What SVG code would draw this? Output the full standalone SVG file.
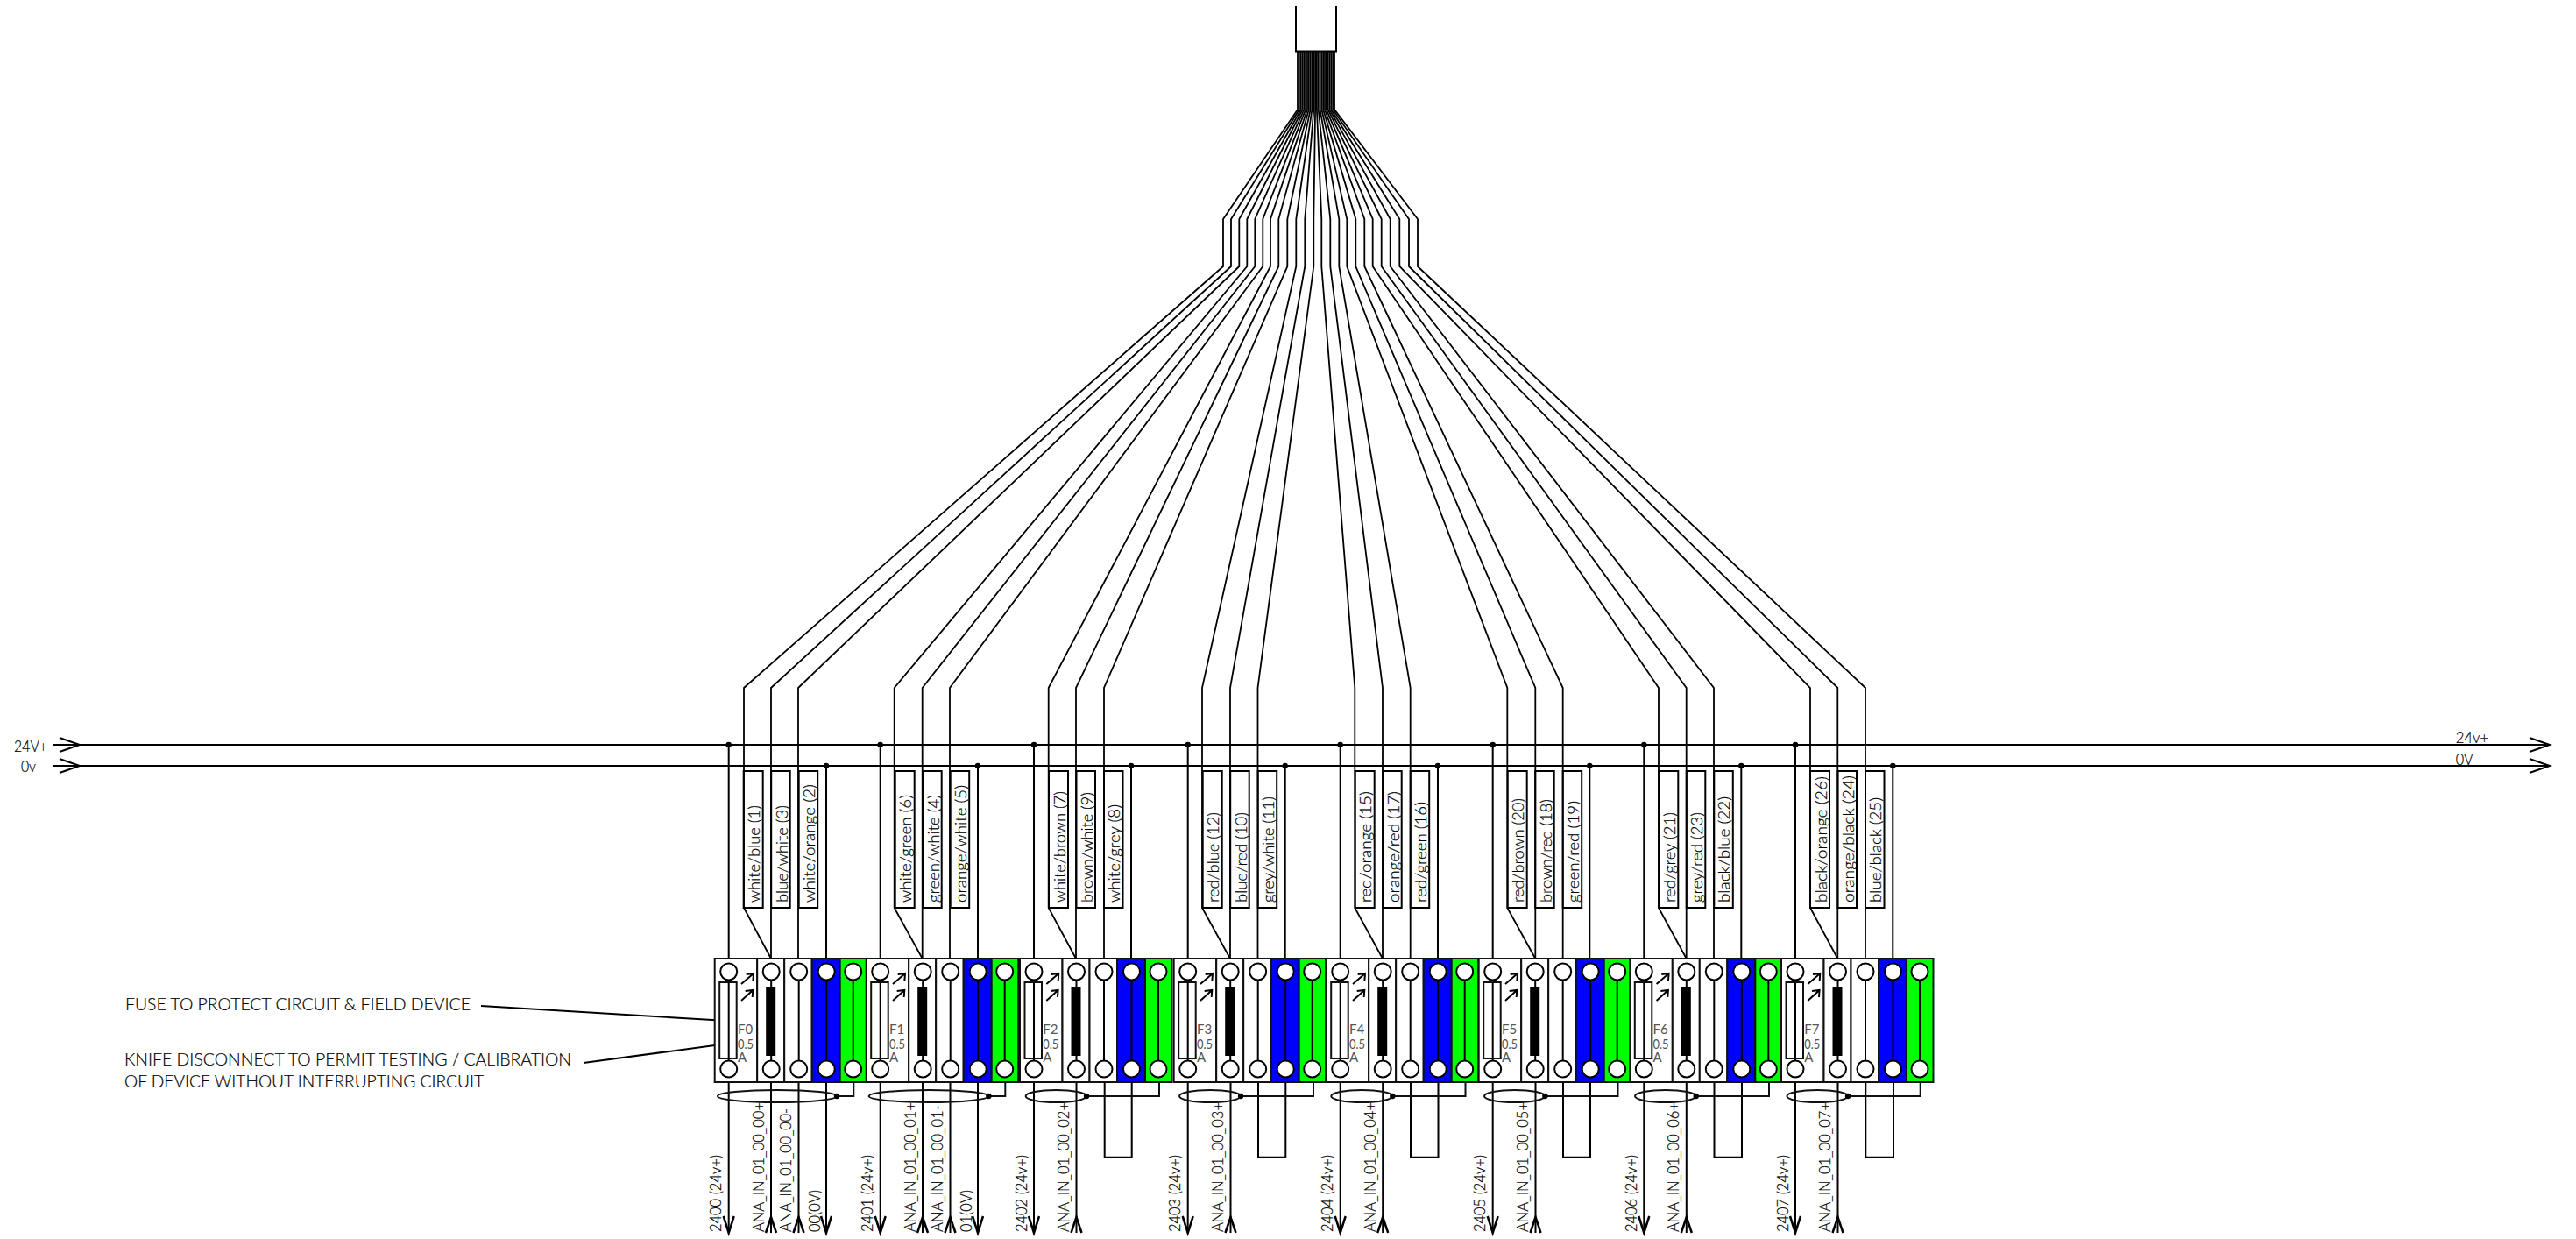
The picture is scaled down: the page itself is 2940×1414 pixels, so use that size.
<svg xmlns="http://www.w3.org/2000/svg" width="2940" height="1414" viewBox="0 0 2940 1414">
<style>
.w{fill:none;stroke:#000;stroke-width:2}
.b{fill:none;stroke:#000;stroke-width:1.8}
.h{fill:none;stroke:#000;stroke-width:2.5}
.d{fill:none;stroke:#111;stroke-width:2}
.c{stroke:#111;stroke-width:2;fill:#fff}
.o{fill:#fff;stroke:#000;stroke-width:2}
.t{font-family:Lato,"Liberation Sans",sans-serif;font-size:18px;font-weight:300;fill:#000;stroke:#000;stroke-width:.2}
.n{font-family:Lato,"Liberation Sans",sans-serif;font-size:15px;fill:#555}
.a{font-family:Lato,"Liberation Sans",sans-serif;font-size:19px;font-weight:300;fill:#000;stroke:#000;stroke-width:.2}
</style>
<defs>
<polyline id="ad" class="h" points="-6,1388 0,1407 6,1388"/>
<polyline id="au" class="h" points="-6,1407 0,1389 6,1407"/>
<circle id="dot" r="3.2" fill="#000"/>
<g id="body">
<rect class="c" x="-16" y="1094" width="48.5" height="141"/>
<rect class="c" x="32.5" y="1094" width="31" height="141"/>
<rect class="c" x="63.5" y="1094" width="31.5" height="141"/>
<rect class="c" x="95" y="1094" width="32" height="141" style="fill:#00f"/>
<rect class="c" x="127" y="1094" width="30.5" height="141" style="fill:#0f0"/>
<path class="w" d="M0 1109V1220M48.5 1109V1220M80 1109V1220M111.5 1109V1220M142 1109V1220"/>
<rect x="-10.5" y="1121" width="19.5" height="87" fill="none" stroke="#111" stroke-width="2"/>
<rect x="42.5" y="1126" width="11" height="79" fill="#000"/>
<circle class="o" cx="0" cy="1109" r="9.5"/><circle class="o" cx="0" cy="1220" r="9.5"/>
<circle class="o" cx="48.5" cy="1109" r="9.5"/><circle class="o" cx="48.5" cy="1220" r="9.5"/>
<circle class="o" cx="80" cy="1109" r="9.5"/><circle class="o" cx="80" cy="1220" r="9.5"/>
<circle class="o" cx="111.5" cy="1109" r="9.5"/><circle class="o" cx="111.5" cy="1220" r="9.5"/>
<circle class="o" cx="142" cy="1109" r="9.5"/><circle class="o" cx="142" cy="1220" r="9.5"/>
<path class="w" d="M14.3 1123L28.3 1111M20 1112L28.3 1111L27.7 1119M14.3 1142L27.6 1130M19 1131L27.6 1130L27 1138"/>
<rect class="w" x="17" y="880" width="22" height="156"/>
<rect class="w" x="48.5" y="880" width="21.5" height="156"/>
<rect class="w" x="80" y="880" width="21.5" height="156"/>
<text class="n" x="10.3" y="1196.7" textLength="18" lengthAdjust="spacingAndGlyphs">0.5</text>
<text class="n" x="10.3" y="1211.7">A</text>
</g>
</defs>

<g id="connectors">
<path class="w" d="M1479 7V58.5H1525V7"/>
<polyline class="b" points="1481,58 1481,125 1396,250 1396,304 849,785 849,1036 880,1094"/>
<polyline class="b" points="1482.8,58 1482.8,125 1405,250 1405,304 880,785 880,1094"/>
<polyline class="b" points="1484.7,58 1484.7,125 1414.3,250 1414.3,304 911,785 911,1094"/>
<polyline class="b" points="1486.5,58 1486.5,125 1423.3,250 1423.3,304 1020.7,785 1020.7,1036 1052.7,1094"/>
<polyline class="b" points="1488.3,58 1488.3,125 1432.3,250 1432.3,304 1052.7,785 1052.7,1094"/>
<polyline class="b" points="1490.1,58 1490.1,125 1441.3,250 1441.3,304 1084,785 1084,1094"/>
<polyline class="b" points="1492,58 1492,125 1450,250 1450,304 1196.7,785 1196.7,1036 1228,1094"/>
<polyline class="b" points="1493.8,58 1493.8,125 1459.3,250 1459.3,304 1228,785 1228,1094"/>
<polyline class="b" points="1495.6,58 1495.6,125 1469.3,250 1469.3,304 1260,785 1260,1094"/>
<polyline class="b" points="1497.4,58 1497.4,125 1479.3,250 1479.3,304 1372,785 1372,1036 1404,1094"/>
<polyline class="b" points="1499.3,58 1499.3,125 1489.3,250 1489.3,304 1404,785 1404,1094"/>
<polyline class="b" points="1501.1,58 1501.1,125 1499.3,250 1499.3,304 1435.5,785 1435.5,1094"/>
<polyline class="b" points="1502.9,58 1502.9,125 1508.3,250 1508.3,304 1546.3,785 1546.3,1036 1578,1094"/>
<polyline class="b" points="1504.7,58 1504.7,125 1518.3,250 1518.3,304 1578,785 1578,1094"/>
<polyline class="b" points="1506.6,58 1506.6,125 1528.3,250 1528.3,304 1609.7,785 1609.7,1094"/>
<polyline class="b" points="1508.4,58 1508.4,125 1537.3,250 1537.3,304 1720.3,785 1720.3,1036 1752.3,1094"/>
<polyline class="b" points="1510.2,58 1510.2,125 1547.3,250 1547.3,304 1752.3,785 1752.3,1094"/>
<polyline class="b" points="1512,58 1512,125 1557.3,250 1557.3,304 1783.7,785 1783.7,1094"/>
<polyline class="b" points="1513.9,58 1513.9,125 1566.7,250 1566.7,304 1893,785 1893,1036 1924.7,1094"/>
<polyline class="b" points="1515.7,58 1515.7,125 1576.7,250 1576.7,304 1924.7,785 1924.7,1094"/>
<polyline class="b" points="1517.5,58 1517.5,125 1586.7,250 1586.7,304 1956,785 1956,1094"/>
<polyline class="b" points="1519.3,58 1519.3,125 1597.3,250 1597.3,304 2066,785 2066,1036 2097.3,1094"/>
<polyline class="b" points="1521.2,58 1521.2,125 1608,250 1608,304 2097.3,785 2097.3,1094"/>
<polyline class="b" points="1523,58 1523,125 1618,250 1618,304 2129,785 2129,1094"/>

<path class="w" d="M61 850H2910M61 874H2910"/>
<polyline class="w" points="68,842 91,850 68,858"/><polyline class="w" points="68,866 91,874 68,882"/>
<polyline class="w" points="2887,842 2910,850 2887,858"/><polyline class="w" points="2887,866 2910,874 2887,882"/>

<path class="w" d="M831.7 850V1094M1004.7 850V1094M1180 850V1094M1355.7 850V1094M1529.7 850V1094M1703.7 850V1094M1876.3 850V1094M2049 850V1094"/>
<path class="w" d="M943 874V1094M1116 874V1094M1291 874V1094M1466.7 874V1094M1641 874V1094M1814.3 874V1094M1987.3 874V1094M2160.3 874V1094"/>
<use href="#dot" x="831.7" y="850"/><use href="#dot" x="1004.7" y="850"/><use href="#dot" x="1180" y="850"/><use href="#dot" x="1355.7" y="850"/><use href="#dot" x="1529.7" y="850"/><use href="#dot" x="1703.7" y="850"/><use href="#dot" x="1876.3" y="850"/><use href="#dot" x="2049" y="850"/>
<use href="#dot" x="943" y="874"/><use href="#dot" x="1116" y="874"/><use href="#dot" x="1291" y="874"/><use href="#dot" x="1466.7" y="874"/><use href="#dot" x="1641" y="874"/><use href="#dot" x="1814.3" y="874"/><use href="#dot" x="1987.3" y="874"/><use href="#dot" x="2160.3" y="874"/>

<path class="w" d="M831.7 1235V1407M880 1235V1407M911.5 1235V1407M943 1235V1407"/>
<path class="w" d="M1004.7 1235V1407M1053 1235V1407M1084.5 1235V1407M1116 1235V1407"/>
<path class="w" d="M1180 1235V1407M1228.5 1235V1407M1355.7 1235V1407M1404.5 1235V1407M1529.7 1235V1407M1578.2 1235V1407M1703.7 1235V1407M1752.5 1235V1407M1876.3 1235V1407M1924.8 1235V1407M2049 1235V1407M2097.5 1235V1407"/>
<path class="w" d="M1260.7 1235V1320.7H1291.7V1235M1436 1235V1320.7H1467.3V1235M1610 1235V1320.7H1641.5V1235M1784 1235V1320.7H1815V1235M1956.5 1235V1320.7H1988V1235M2129.3 1235V1320.7H2161V1235"/>
<use href="#ad" x="831.7"/><use href="#au" x="880"/><use href="#au" x="911.5"/><use href="#ad" x="943"/>
<use href="#ad" x="1004.7"/><use href="#au" x="1053"/><use href="#au" x="1084.5"/><use href="#ad" x="1116"/>
<use href="#ad" x="1180"/><use href="#au" x="1228.5"/><use href="#ad" x="1355.7"/><use href="#au" x="1404.5"/><use href="#ad" x="1529.7"/><use href="#au" x="1578.2"/><use href="#ad" x="1703.7"/><use href="#au" x="1752.5"/><use href="#ad" x="1876.3"/><use href="#au" x="1924.8"/><use href="#ad" x="2049"/><use href="#au" x="2097.5"/>

<ellipse class="d" cx="887" cy="1251" rx="68" ry="7"/><ellipse class="d" cx="1060" cy="1251" rx="68.3" ry="7"/><ellipse class="d" cx="1205.3" cy="1251" rx="34.7" ry="7"/><ellipse class="d" cx="1381" cy="1251" rx="35" ry="7"/><ellipse class="d" cx="1554.3" cy="1251" rx="35" ry="7"/><ellipse class="d" cx="1728.7" cy="1251" rx="34.7" ry="7"/><ellipse class="d" cx="1900.8" cy="1251" rx="34.8" ry="7"/><ellipse class="d" cx="2074.2" cy="1251" rx="34.8" ry="7"/>
<path class="d" d="M955 1251H974.3V1235M1128.3 1251H1147.3V1235M1240 1251H1323V1235M1416 1251H1499V1235M1589.3 1251H1672.5V1235M1763.3 1251H1846.5V1235M1935.7 1251H2019V1235M2109 1251H2191.7V1235"/>
<use href="#dot" x="955" y="1251"/><use href="#dot" x="1128.3" y="1251"/><use href="#dot" x="1240" y="1251"/><use href="#dot" x="1416" y="1251"/><use href="#dot" x="1589.3" y="1251"/><use href="#dot" x="1763.3" y="1251"/><use href="#dot" x="1935.7" y="1251"/><use href="#dot" x="2109" y="1251"/>

<path class="w" d="M549 1148L830 1165M666 1213L875 1185"/>
</g>

<g id="module-0" transform="translate(831.7,0)">
<use href="#body"/><text class="n" x="10.3" y="1180">F0</text>
<text class="t" transform="translate(35.5,1030) rotate(-90)" textLength="111" lengthAdjust="spacingAndGlyphs">white/blue (1)</text>
<text class="t" transform="translate(67,1030) rotate(-90)" textLength="111" lengthAdjust="spacingAndGlyphs">blue/white (3)</text>
<text class="t" transform="translate(98,1030) rotate(-90)" textLength="135" lengthAdjust="spacingAndGlyphs">white/orange (2)</text>
<text class="t" transform="translate(-8.5,1406) rotate(-90)" textLength="88" lengthAdjust="spacingAndGlyphs">2400 (24v+)</text>
<text class="t" transform="translate(40,1406) rotate(-90)" textLength="148" lengthAdjust="spacingAndGlyphs">ANA_IN_01_00_00+</text>
<text class="t" transform="translate(71,1406) rotate(-90)" textLength="141" lengthAdjust="spacingAndGlyphs">ANA_IN_01_00_00-</text>
<text class="t" transform="translate(104,1406) rotate(-90)" textLength="48" lengthAdjust="spacingAndGlyphs">00(0V)</text>
</g>
<g id="module-1" transform="translate(1004.7,0)">
<use href="#body"/><text class="n" x="10.3" y="1180">F1</text>
<text class="t" transform="translate(35.5,1030) rotate(-90)" textLength="123" lengthAdjust="spacingAndGlyphs">white/green (6)</text>
<text class="t" transform="translate(67,1030) rotate(-90)" textLength="123" lengthAdjust="spacingAndGlyphs">green/white (4)</text>
<text class="t" transform="translate(98,1030) rotate(-90)" textLength="134" lengthAdjust="spacingAndGlyphs">orange/white (5)</text>
<text class="t" transform="translate(-8.5,1406) rotate(-90)" textLength="88" lengthAdjust="spacingAndGlyphs">2401 (24v+)</text>
<text class="t" transform="translate(40,1406) rotate(-90)" textLength="148" lengthAdjust="spacingAndGlyphs">ANA_IN_01_00_01+</text>
<text class="t" transform="translate(71,1406) rotate(-90)" textLength="145" lengthAdjust="spacingAndGlyphs">ANA_IN_01_00_01-</text>
<text class="t" transform="translate(104,1406) rotate(-90)" textLength="48" lengthAdjust="spacingAndGlyphs">01(0V)</text>
</g>
<g id="module-2" transform="translate(1180,0)">
<use href="#body"/><text class="n" x="10.3" y="1180">F2</text>
<text class="t" transform="translate(35.5,1030) rotate(-90)" textLength="127" lengthAdjust="spacingAndGlyphs">white/brown (7)</text>
<text class="t" transform="translate(67,1030) rotate(-90)" textLength="126" lengthAdjust="spacingAndGlyphs">brown/white (9)</text>
<text class="t" transform="translate(98,1030) rotate(-90)" textLength="112" lengthAdjust="spacingAndGlyphs">white/grey (8)</text>
<text class="t" transform="translate(-8.5,1406) rotate(-90)" textLength="88" lengthAdjust="spacingAndGlyphs">2402 (24v+)</text>
<text class="t" transform="translate(40,1406) rotate(-90)" textLength="148" lengthAdjust="spacingAndGlyphs">ANA_IN_01_00_02+</text>
</g>
<g id="module-3" transform="translate(1355.7,0)">
<use href="#body"/><text class="n" x="10.3" y="1180">F3</text>
<text class="t" transform="translate(35.5,1030) rotate(-90)" textLength="103" lengthAdjust="spacingAndGlyphs">red/blue (12)</text>
<text class="t" transform="translate(67,1030) rotate(-90)" textLength="103" lengthAdjust="spacingAndGlyphs">blue/red (10)</text>
<text class="t" transform="translate(98,1030) rotate(-90)" textLength="121" lengthAdjust="spacingAndGlyphs">grey/white (11)</text>
<text class="t" transform="translate(-8.5,1406) rotate(-90)" textLength="88" lengthAdjust="spacingAndGlyphs">2403 (24v+)</text>
<text class="t" transform="translate(40,1406) rotate(-90)" textLength="148" lengthAdjust="spacingAndGlyphs">ANA_IN_01_00_03+</text>
</g>
<g id="module-4" transform="translate(1529.7,0)">
<use href="#body"/><text class="n" x="10.3" y="1180">F4</text>
<text class="t" transform="translate(35.5,1030) rotate(-90)" textLength="127" lengthAdjust="spacingAndGlyphs">red/orange (15)</text>
<text class="t" transform="translate(67,1030) rotate(-90)" textLength="127" lengthAdjust="spacingAndGlyphs">orange/red (17)</text>
<text class="t" transform="translate(98,1030) rotate(-90)" textLength="115" lengthAdjust="spacingAndGlyphs">red/green (16)</text>
<text class="t" transform="translate(-8.5,1406) rotate(-90)" textLength="88" lengthAdjust="spacingAndGlyphs">2404 (24v+)</text>
<text class="t" transform="translate(40,1406) rotate(-90)" textLength="148" lengthAdjust="spacingAndGlyphs">ANA_IN_01_00_04+</text>
</g>
<g id="module-5" transform="translate(1703.7,0)">
<use href="#body"/><text class="n" x="10.3" y="1180">F5</text>
<text class="t" transform="translate(35.5,1030) rotate(-90)" textLength="119" lengthAdjust="spacingAndGlyphs">red/brown (20)</text>
<text class="t" transform="translate(67,1030) rotate(-90)" textLength="118" lengthAdjust="spacingAndGlyphs">brown/red (18)</text>
<text class="t" transform="translate(98,1030) rotate(-90)" textLength="116" lengthAdjust="spacingAndGlyphs">green/red (19)</text>
<text class="t" transform="translate(-8.5,1406) rotate(-90)" textLength="88" lengthAdjust="spacingAndGlyphs">2405 (24v+)</text>
<text class="t" transform="translate(40,1406) rotate(-90)" textLength="148" lengthAdjust="spacingAndGlyphs">ANA_IN_01_00_05+</text>
</g>
<g id="module-6" transform="translate(1876.3,0)">
<use href="#body"/><text class="n" x="10.3" y="1180">F6</text>
<text class="t" transform="translate(35.5,1030) rotate(-90)" textLength="103" lengthAdjust="spacingAndGlyphs">red/grey (21)</text>
<text class="t" transform="translate(67,1030) rotate(-90)" textLength="103" lengthAdjust="spacingAndGlyphs">grey/red (23)</text>
<text class="t" transform="translate(98,1030) rotate(-90)" textLength="121" lengthAdjust="spacingAndGlyphs">black/blue (22)</text>
<text class="t" transform="translate(-8.5,1406) rotate(-90)" textLength="88" lengthAdjust="spacingAndGlyphs">2406 (24v+)</text>
<text class="t" transform="translate(40,1406) rotate(-90)" textLength="148" lengthAdjust="spacingAndGlyphs">ANA_IN_01_00_06+</text>
</g>
<g id="module-7" transform="translate(2049,0)">
<use href="#body"/><text class="n" x="10.3" y="1180">F7</text>
<text class="t" transform="translate(35.5,1030) rotate(-90)" textLength="144" lengthAdjust="spacingAndGlyphs">black/orange (26)</text>
<text class="t" transform="translate(67,1030) rotate(-90)" textLength="145" lengthAdjust="spacingAndGlyphs">orange/black (24)</text>
<text class="t" transform="translate(98,1030) rotate(-90)" textLength="120" lengthAdjust="spacingAndGlyphs">blue/black (25)</text>
<text class="t" transform="translate(-8.5,1406) rotate(-90)" textLength="88" lengthAdjust="spacingAndGlyphs">2407 (24v+)</text>
<text class="t" transform="translate(40,1406) rotate(-90)" textLength="148" lengthAdjust="spacingAndGlyphs">ANA_IN_01_00_07+</text>
</g>

<g id="rail-labels">
<text class="t" x="16" y="858" textLength="38" lengthAdjust="spacingAndGlyphs">24V+</text>
<text class="t" x="24" y="881" textLength="17" lengthAdjust="spacingAndGlyphs">0v</text>
<text class="t" x="2802.7" y="848" textLength="37.5" lengthAdjust="spacingAndGlyphs">24v+</text>
<text class="t" x="2802.7" y="872.7" textLength="20" lengthAdjust="spacingAndGlyphs">0V</text>
</g>
<g id="notes">
<text class="a" x="143" y="1153" textLength="394" lengthAdjust="spacingAndGlyphs">FUSE TO PROTECT CIRCUIT &amp; FIELD DEVICE</text>
<text class="a" x="142" y="1216" textLength="510" lengthAdjust="spacingAndGlyphs">KNIFE DISCONNECT TO PERMIT TESTING / CALIBRATION</text>
<text class="a" x="142" y="1240.7" textLength="410" lengthAdjust="spacingAndGlyphs">OF DEVICE WITHOUT INTERRUPTING CIRCUIT</text>
</g>
</svg>
